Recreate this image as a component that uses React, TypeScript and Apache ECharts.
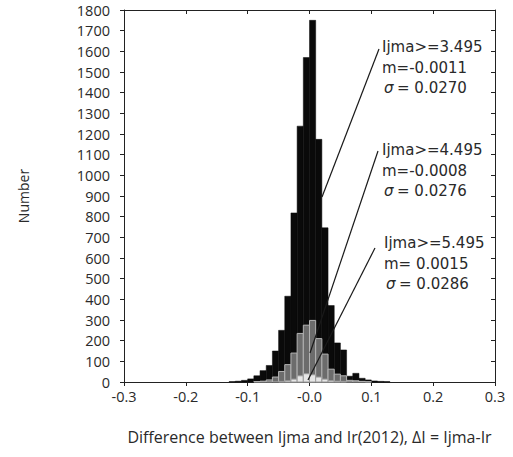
import React, { useEffect, useRef } from "react";
import * as echarts from "echarts";

// Histogram bins: left edge of each 0.01-wide bin
const binStarts = [
  -0.13, -0.12, -0.11, -0.10, -0.09, -0.08, -0.07, -0.06, -0.05, -0.04, -0.03, -0.02, -0.01,
  0.0, 0.01, 0.02, 0.03, 0.04, 0.05, 0.06, 0.07, 0.08, 0.09, 0.10, 0.11, 0.12,
];
const BIN_WIDTH = 0.01;

// Ijma >= 3.495 (all)
const countAll = [2, 4, 8, 15, 30, 55, 80, 150, 250, 415, 818, 1238, 1570, 1750, 1174, 746, 370, 189, 155, 28, 42, 18, 10, 5, 3, 2];
// Ijma >= 4.495
const count4495 = [0, 0, 0, 0, 2, 4, 10, 24, 51, 84, 140, 235, 275, 298, 210, 135, 62, 38, 30, 8, 6, 3, 1, 0, 0, 0];
// Ijma >= 5.495
const count5495 = [0, 0, 0, 0, 0, 0, 0, 0, 3, 6, 14, 30, 40, 35, 24, 14, 7, 4, 3, 0, 0, 0, 0, 0, 0, 0];

const xTickLabels = ["-0.3", "-0.2", "-0.1", "-0.0", "0.1", "0.2", "0.3"];

const annotations = [
  ["Ijma>=3.495", "m=-0.0011", "= 0.0270"],
  ["Ijma>=4.495", "m=-0.0008", "= 0.0276"],
  ["Ijma>=5.495", "m= 0.0015", "= 0.0286"],
];

const FONT = '"Open Sans", "Noto Sans", sans-serif';
const ANN_FONT = '"DejaVu Sans", sans-serif';
const TXT = "#2a2a2a";

function histSeries(name: string, counts: number[], fill: string, stroke: string, lw: number) {
  return {
    type: "custom",
    name,
    xAxisIndex: 0,
    yAxisIndex: 0,
    data: binStarts.map((b, i) => [b, counts[i]]).filter((d) => d[1] > 0),
    encode: { x: 0, y: 1 },
    renderItem: (params: any, api: any) => {
      const x0 = api.value(0);
      const c = api.value(1);
      const p0 = api.coord([x0, c]);
      const p1 = api.coord([x0 + BIN_WIDTH, 0]);
      return {
        type: "rect",
        shape: { x: p0[0], y: p0[1], width: p1[0] - p0[0], height: p1[1] - p0[1] },
        style: { fill, stroke, lineWidth: lw },
      };
    },
  };
}

export default function App() {
  const ref = useRef<HTMLDivElement>(null);
  useEffect(() => {
    if (!ref.current) return;
    const chart = echarts.init(ref.current, undefined, { renderer: "svg" });

    const blockPos = [
      { x: 382, y: 47 },
      { x: 382, y: 150 },
      { x: 384, y: 243 },
    ];
    const lineSegs = [
      [379, 49, 322, 197],
      [378, 151, 310, 353],
      [375, 248, 308, 380],
    ];
    const graphics: any[] = [];
    const font = `15px ${ANN_FONT}`;
    annotations.forEach((a, k) => {
      const { x, y } = blockPos[k];
      graphics.push({
        type: "text",
        style: { text: a[0], x, y, fill: TXT, font, verticalAlign: "middle" },
      });
      graphics.push({
        type: "text",
        style: { text: a[1], x, y: y + 20.5, fill: TXT, font, verticalAlign: "middle" },
      });
      graphics.push({
        type: "text",
        style: {
          text: "σ",
          x: x + 2,
          y: y + 41,
          fill: TXT,
          font: `italic 15px ${ANN_FONT}`,
          verticalAlign: "middle",
        },
      });
      graphics.push({
        type: "text",
        style: { text: a[2], x: x + 15, y: y + 41, fill: TXT, font, verticalAlign: "middle" },
      });
    });
    lineSegs.forEach((s) => {
      graphics.push({
        type: "line",
        z: 100,
        shape: { x1: s[0], y1: s[1], x2: s[2], y2: s[3] },
        style: { stroke: "#1a1a1a", lineWidth: 1.2 },
      });
    });

    const axisLine = { show: true, onZero: false, lineStyle: { color: "#222", width: 1 } };

    chart.setOption({
      animation: false,
      grid: { left: 124, right: 18, top: 10, bottom: 75, containLabel: false },
      xAxis: [
        {
          type: "value",
          position: "bottom",
          min: -0.3,
          max: 0.3,
          interval: 0.1,
          axisLine,
          axisTick: { show: true, inside: false, length: 4, lineStyle: { color: "#222" } },
          splitLine: { show: false },
          axisLabel: {
            margin: 7,
            fontSize: 14.5,
            fontFamily: FONT,
            color: TXT,
            formatter: (v: number) => xTickLabels[Math.round((v + 0.3) / 0.1)] ?? "",
          },
          name: "Difference between Ijma and Ir(2012), ΔI = Ijma-Ir",
          nameLocation: "middle",
          nameGap: 47,
          nameTextStyle: { fontSize: 16, fontFamily: FONT, color: TXT },
        },
        {
          type: "value",
          position: "top",
          min: -0.3,
          max: 0.3,
          interval: 0.1,
          axisLine,
          axisTick: { show: true, inside: true, length: 4, lineStyle: { color: "#222" } },
          splitLine: { show: false },
          axisLabel: { show: false },
        },
      ],
      yAxis: [
        {
          type: "value",
          position: "left",
          min: 0,
          max: 1800,
          interval: 100,
          axisLine,
          axisTick: { show: true, inside: false, length: 4, lineStyle: { color: "#222" } },
          splitLine: { show: false },
          axisLabel: {
            margin: 14,
            fontSize: 14.5,
            fontFamily: FONT,
            color: TXT,
            formatter: (v: number) => String(v),
          },
          name: "Number",
          nameLocation: "middle",
          nameGap: 94,
          nameTextStyle: { fontSize: 14, fontFamily: FONT, color: TXT },
        },
        {
          type: "value",
          position: "right",
          min: 0,
          max: 1800,
          interval: 100,
          axisLine,
          axisTick: { show: true, inside: true, length: 4, lineStyle: { color: "#222" } },
          splitLine: { show: false },
          axisLabel: { show: false },
        },
      ],
      series: [
        histSeries("Ijma>=3.495", countAll, "#0a0a0a", "#0a0a0a", 0.5),
        histSeries("Ijma>=4.495", count4495, "#6c6c6c", "#b4b4b4", 1),
        histSeries("Ijma>=5.495", count5495, "#e6e6e6", "#9a9a9a", 1),
      ],
      graphic: graphics,
    });
    return () => chart.dispose();
  }, []);
  return (
    <div
      ref={ref}
      style={{ position: "fixed", left: 0, top: 0, width: 513, height: 457, background: "#fff" }}
    />
  );
}
